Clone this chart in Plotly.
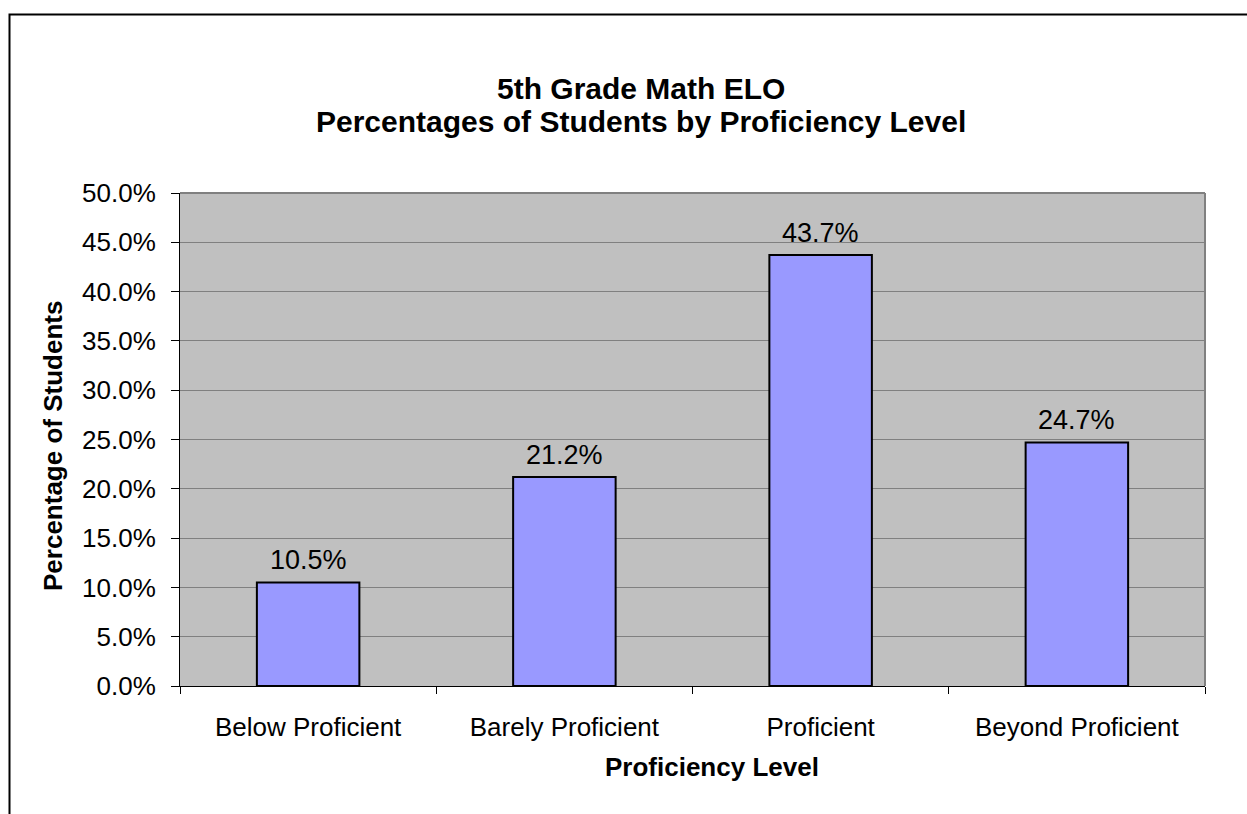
import plotly.graph_objects as go

categories = ["Below Proficient", "Barely Proficient", "Proficient", "Beyond Proficient"]
values = [0.105, 0.212, 0.437, 0.247]
y_ticks = [0.0, 0.05, 0.10, 0.15, 0.20, 0.25, 0.30, 0.35, 0.40, 0.45, 0.50]
title_lines = ["5th Grade Math ELO", "Percentages of Students by Proficiency Level"]
x_title = "Proficiency Level"
y_title = "Percentage of Students"

FONT = "Arial, 'Liberation Sans', sans-serif"
W, H = 1247, 814
ML, MR, MT, MB = 180, 42, 193, 128
PW, PH = W - ML - MR, H - MT - MB

def px_x(p):
    return (p - ML) / PW

def px_y(p):
    return (H - MB - p) / PH

fig = go.Figure()
fig.add_trace(go.Bar(
    x=categories, y=values,
    marker=dict(color="#9999FF", line=dict(color="black", width=2)),
    width=0.4, hoverinfo="x+y",
))

annotations = []
for c, v in zip(categories, values):
    annotations.append(dict(
        x=c, y=v, xref="x", yref="y", text=f"{v*100:.1f}%",
        showarrow=False, yanchor="bottom", yshift=5,
        font=dict(family=FONT, size=27, color="black"),
    ))
for line, ypx in zip(title_lines, [88, 122]):
    annotations.append(dict(
        x=px_x(641), y=px_y(ypx), xref="paper", yref="paper",
        text=f"<b>{line}</b>", showarrow=False,
        xanchor="center", yanchor="middle",
        font=dict(family=FONT, size=30, color="black"),
    ))
annotations.append(dict(
    x=px_x(712), y=px_y(767), xref="paper", yref="paper",
    text=f"<b>{x_title}</b>", showarrow=False,
    xanchor="center", yanchor="middle",
    font=dict(family=FONT, size=26, color="black"),
))
annotations.append(dict(
    x=px_x(53), y=px_y(446), xref="paper", yref="paper",
    text=f"<b>{y_title}</b>", showarrow=False, textangle=-90,
    xanchor="center", yanchor="middle",
    font=dict(family=FONT, size=26, color="black"),
))

fig.update_layout(
    width=W, height=H,
    margin=dict(l=ML, r=MR, t=MT, b=MB),
    paper_bgcolor="white", plot_bgcolor="#C0C0C0",
    showlegend=False,
    font=dict(family=FONT, size=26, color="black"),
    xaxis=dict(
        type="category", tickson="boundaries", ticks="outside", ticklen=7,
        tickcolor="black", showline=True, linecolor="black", linewidth=1,
        showgrid=False, tickfont=dict(size=26), ticklabelstandoff=18,
    ),
    yaxis=dict(
        range=[0, 0.5], tickvals=y_ticks, tickformat=".1%",
        ticks="outside", ticklen=8, tickcolor="black",
        showline=True, linecolor="black", linewidth=1,
        showgrid=True, gridcolor="#808080", gridwidth=1,
        tickfont=dict(size=26), zeroline=False, ticklabelstandoff=10,
    ),
    annotations=annotations,
    shapes=[
        dict(type="line", xref="paper", yref="paper", x0=0, x1=1, y0=1, y1=1,
             line=dict(color="#808080", width=2)),
        dict(type="line", xref="paper", yref="paper", x0=1, x1=1, y0=0, y1=1,
             line=dict(color="#808080", width=2)),
        dict(type="rect", xref="paper", yref="paper",
             x0=px_x(9.5), x1=px_x(1260), y0=px_y(830), y1=px_y(14.5),
             line=dict(color="black", width=2), fillcolor="rgba(0,0,0,0)", layer="below"),
    ],
)

fig.write_html("out.html")
